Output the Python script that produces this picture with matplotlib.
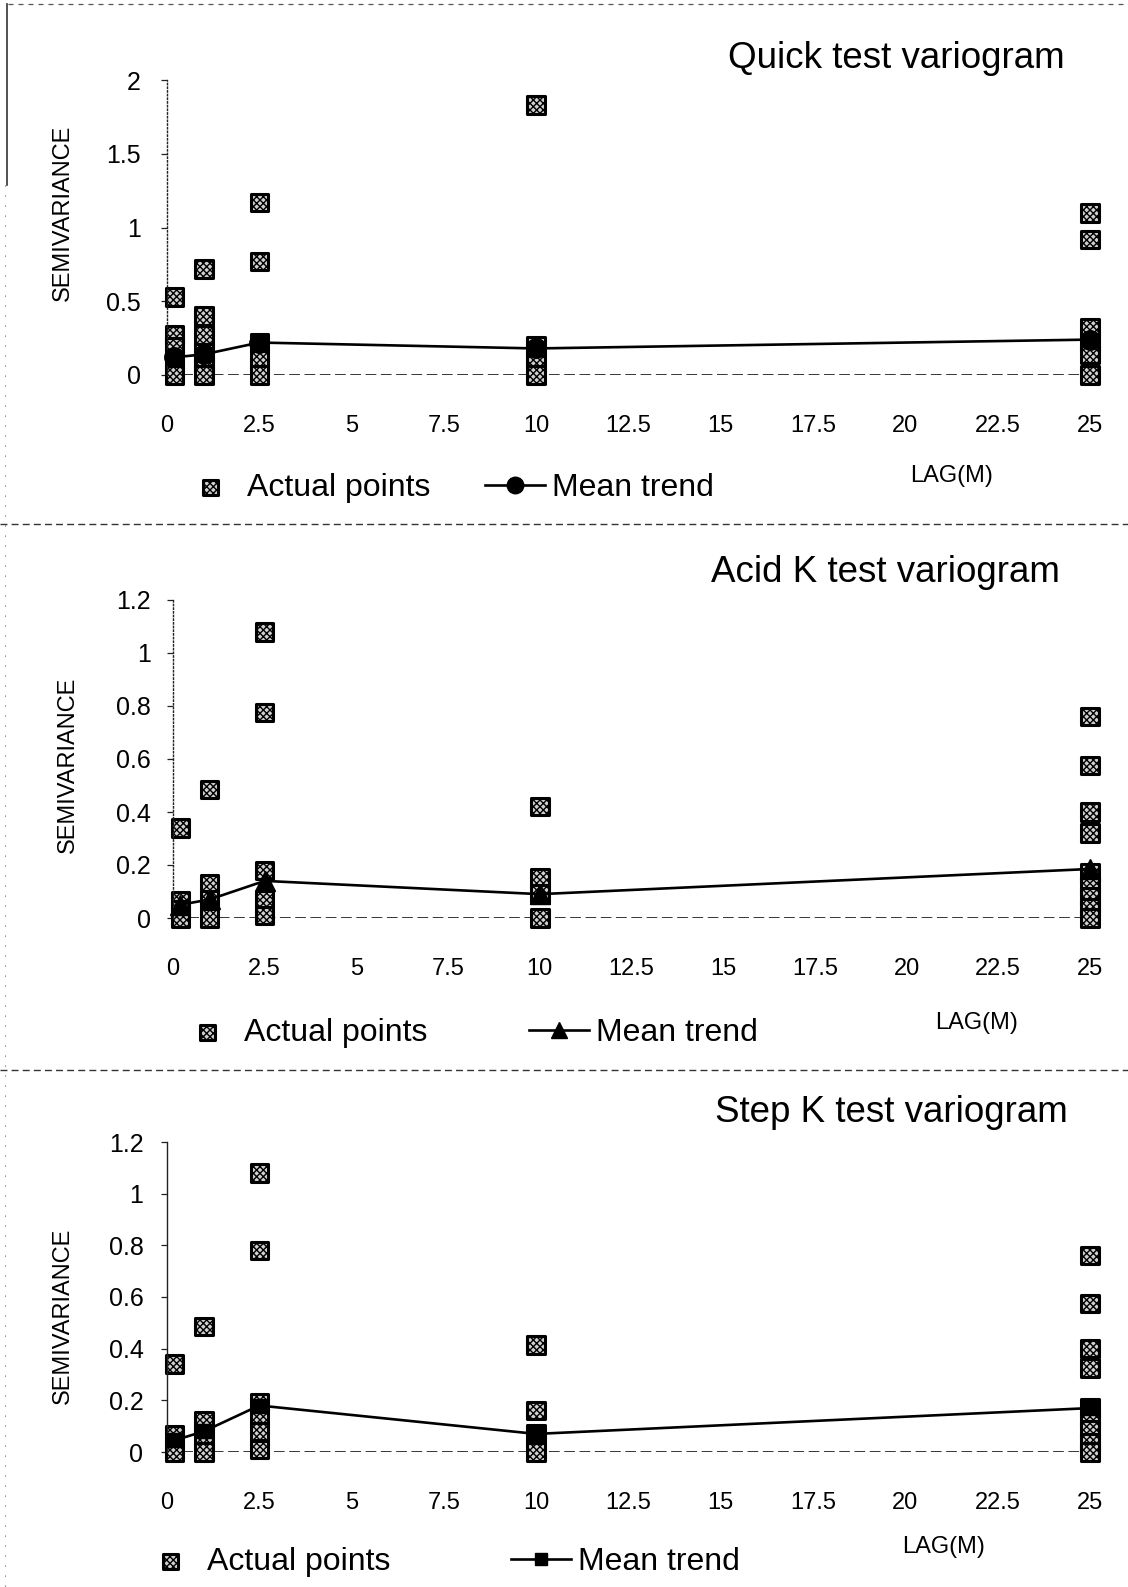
import matplotlib
matplotlib.use('Agg')
import matplotlib.pyplot as plt
from matplotlib.lines import Line2D

plt.rcParams['font.family'] = ['Liberation Sans', 'DejaVu Sans']
plt.rcParams['hatch.linewidth'] = 1.0

# ---------------- data ----------------
lags = [0.2, 1, 2.5, 10, 25]
x_ticks = [0, 2.5, 5, 7.5, 10, 12.5, 15, 17.5, 20, 22.5, 25]
x_tick_labels = ['0', '2.5', '5', '7.5', '10', '12.5', '15', '17.5', '20', '22.5', '25']

quick_points = [
    [0.53, 0.27, 0.19, 0.10, 0.0],
    [0.72, 0.40, 0.27, 0.15, 0.07, 0.0],
    [1.17, 0.77, 0.22, 0.10, 0.0],
    [1.83, 0.20, 0.10, 0.0],
    [1.10, 0.92, 0.32, 0.22, 0.14, 0.0],
]
quick_mean = [0.12, 0.14, 0.22, 0.18, 0.24]
quick_yticks = [0, 0.5, 1, 1.5, 2]
quick_ylabels = ['0', '0.5', '1', '1.5', '2']

acid_points = [
    [0.34, 0.065, 0.03, 0.0],
    [0.485, 0.13, 0.07, 0.0],
    [1.08, 0.775, 0.18, 0.07, 0.01],
    [0.42, 0.15, 0.09, 0.0],
    [0.76, 0.575, 0.40, 0.32, 0.17, 0.12, 0.08, 0.04, 0.0],
]
acid_mean = [0.05, 0.07, 0.14, 0.09, 0.185]

step_points = [
    [0.34, 0.065, 0.0],
    [0.485, 0.12, 0.07, 0.0],
    [1.08, 0.78, 0.19, 0.14, 0.08, 0.01],
    [0.415, 0.16, 0.07, 0.0],
    [0.76, 0.575, 0.40, 0.325, 0.17, 0.13, 0.085, 0.035, 0.0],
]
step_mean = [0.045, 0.08, 0.18, 0.07, 0.17]

k_yticks = [0, 0.2, 0.4, 0.6, 0.8, 1.0, 1.2]
k_ylabels = ['0', '0.2', '0.4', '0.6', '0.8', '1', '1.2']

titles = ['Quick test variogram', 'Acid K test variogram', 'Step K test variogram']
legend_labels = ['Actual points', 'Mean trend']
x_label = 'LAG(M)'
y_label = 'SEMIVARIANCE'

# ---------------- layout (pixels) ----------------
W, H = 1128, 1587
fig = plt.figure(figsize=(W / 100, H / 100), dpi=100)

panels = [
    dict(points=quick_points, mean=quick_mean, yt=quick_yticks, yl=quick_ylabels, ymax=2.0,
         box=(167, 1090, 375, 80), marker='o', msize=14, spine_ls=':',
         title=(1065, 58), leg=(180, 488), colsp=1.7, lag=(952, 476), ylab=(63, 213), ypad=15),
    dict(points=acid_points, mean=acid_mean, yt=k_yticks, yl=k_ylabels, ymax=1.2,
         box=(173, 1090, 918, 600), marker='^', msize=14, spine_ls=':',
         title=(1060, 572), leg=(177, 1033), colsp=3.17, lag=(977, 1023), ylab=(68, 765), ypad=12),
    dict(points=step_points, mean=step_mean, yt=k_yticks, yl=k_ylabels, ymax=1.2,
         box=(167, 1090, 1452, 1142), marker='s', msize=10, spine_ls='-',
         title=(1068, 1112), leg=(140, 1562), colsp=3.76, lag=(944, 1547), ylab=(63, 1316), ypad=13),
]

for i, p in enumerate(panels):
    left, right, y0, ytop = p['box']
    ax = fig.add_axes([left / W, 1 - y0 / H, (right - left) / W, (y0 - ytop) / H])
    ax.set_xlim(0, 25)
    ax.set_ylim(0, p['ymax'])

    xs, ys = [], []
    for lag, vals in zip(lags, p['points']):
        for v in vals:
            xs.append(lag)
            ys.append(v)
    sc = ax.scatter(xs, ys, s=160, marker='s', facecolor='#d0d0d0', edgecolor='black',
                    hatch='xxxxx', linewidths=2.2, clip_on=False, zorder=2)
    ln, = ax.plot(lags, p['mean'], color='black', lw=1.9, marker=p['marker'],
                  markersize=p['msize'], markerfacecolor='black', markeredgecolor='black',
                  clip_on=False, zorder=3)
    ax.axhline(0, color='black', lw=1.1, ls=(0, (7, 3)), zorder=1)

    for s in ['top', 'right', 'bottom']:
        ax.spines[s].set_visible(False)
    ax.spines['left'].set_linestyle(p['spine_ls'])
    ax.spines['left'].set_linewidth(1.0)
    ax.spines['left'].set_color('#222222')

    ax.set_xticks(x_ticks)
    ax.set_xticklabels(x_tick_labels, fontsize=17)
    ax.set_yticks(p['yt'])
    ax.set_yticklabels(p['yl'], fontsize=18)
    ax.tick_params(axis='x', length=0, pad=29)
    ax.tick_params(axis='y', length=4, width=0.9, color='#222222', pad=p['ypad'], direction='out')

    tx, ty = p['title']
    fig.text(tx / W, 1 - ty / H, titles[i], fontsize=26.5, ha='right', va='center')
    lx, ly = p['lag']
    fig.text(lx / W, 1 - ly / H, x_label, fontsize=17, ha='center', va='center')
    sx, sy = p['ylab']
    fig.text(sx / W, 1 - sy / H, y_label, fontsize=17, rotation=90, ha='center', va='center')

    gx, gy = p['leg']
    ax.legend([sc, ln], legend_labels, ncol=2, frameon=False, loc='center left',
              bbox_to_anchor=(gx / W, 1 - gy / H), bbox_transform=fig.transFigure,
              fontsize=23, handlelength=1.9, handletextpad=0.2, columnspacing=p['colsp'],
              borderpad=0, borderaxespad=0, scatterpoints=1, markerscale=0.85)

# page separators / border remnants
for yy in [524, 1070]:
    fig.add_artist(Line2D([0, 1], [1 - yy / H, 1 - yy / H], transform=fig.transFigure,
                          color='#333333', lw=1.0, ls=(0, (5, 3))))
fig.add_artist(Line2D([8 / W, 1], [1 - 4 / H, 1 - 4 / H], transform=fig.transFigure,
                      color='#555555', lw=0.9, ls=(0, (4, 4))))
fig.add_artist(Line2D([7 / W, 7 / W], [1 - 4 / H, 1 - 185 / H], transform=fig.transFigure,
                      color='#333333', lw=1.2))
fig.add_artist(Line2D([5 / W, 5 / W], [1 - 185 / H, 0], transform=fig.transFigure,
                      color='#666666', lw=0.8, ls=(0, (1, 8))))

fig.savefig('out.png', dpi=100)
